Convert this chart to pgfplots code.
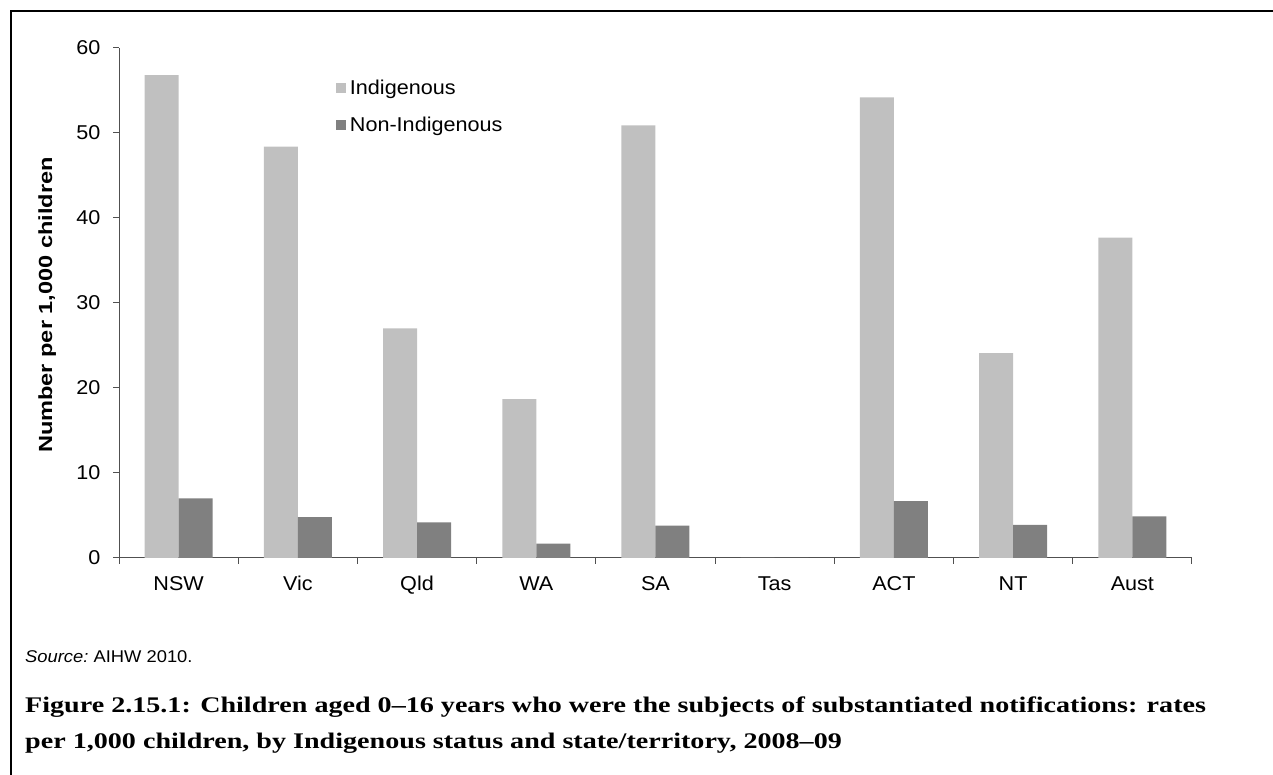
\documentclass[border=0pt]{standalone}
\usepackage{fontspec}
\setmainfont{Liberation Sans}[FakeStretch=1.08]
\newfontfamily\ylabfont{Liberation Sans}[FakeStretch=1.24]
\newfontfamily\titlefont{Liberation Serif}[FakeStretch=1.26]
\usepackage{pgfplots}
\pgfplotsset{compat=1.18}
\definecolor{indig}{HTML}{C0C0C0}
\definecolor{nonindig}{HTML}{808080}
\definecolor{axgray}{HTML}{505050}
\begin{document}
\begin{tikzpicture}
\useasboundingbox (0,0) rectangle (1273pt,775pt);
% frame (only top and left edges are inside the picture)
\draw[line width=2.2pt] (11pt,-10pt) -- (11pt,764pt) -- (1290pt,764pt);
\begin{axis}[
    at={(119pt,217pt)}, anchor=south west,
    scale only axis, width=1073pt, height=510pt,
    xmin=-0.5, xmax=8.5, ymin=0, ymax=60,
    axis x line=bottom, axis y line=left,
    axis line style={-, draw=axgray, line width=1pt},
    ybar=0pt, bar width=34pt,
    xtick={0,...,8},
    xticklabels={NSW,Vic,Qld,WA,SA,Tas,ACT,NT,Aust},
    major x tick style={draw=none},
    minor xtick={-0.5,0.5,...,8.5},
    ytick={0,10,...,60},
    tick align=outside,
    major tick length=6pt, minor tick length=6pt,
    tick style={draw=axgray, line width=1pt},
    ticklabel style={font=\fontsize{20}{24}\selectfont},
    /pgf/number format/assume math mode=true,
    xticklabel style={text height=14.5pt, text depth=0pt, yshift=-8pt},
    yticklabel style={xshift=-9pt},
    ylabel={Number per 1,000 children},
    ylabel style={font=\ylabfont\fontsize{19}{22}\selectfont\bfseries,
        at={(axis description cs:-0.067,0.496)}, anchor=center},
    legend style={at={(axis description cs:0.202,0.94)}, anchor=north west,
        draw=none, fill=none, font=\fontsize{20}{24}\selectfont,
        row sep=19pt, inner sep=0pt,
        nodes={inner sep=1pt}},
    legend cell align=left,
    legend image code/.code={\fill[#1] (0pt,-5pt) rectangle (10pt,5pt); \path (13pt,0pt);},
]
\addplot[fill=indig, draw=none] coordinates
    {(0,56.8) (1,48.4) (2,27.0) (3,18.7) (4,50.9) (5,0) (6,54.2) (7,24.1) (8,37.7)};
\addplot[fill=nonindig, draw=none] coordinates
    {(0,7.0) (1,4.8) (2,4.2) (3,1.7) (4,3.8) (5,0) (6,6.7) (7,3.9) (8,4.9)};
\legend{Indigenous, Non-Indigenous}
\end{axis}
\node[anchor=base west, inner sep=0pt, font=\fontsize{17}{20}\selectfont] at (25pt,112pt)
    {\textit{Source:}\ AIHW 2010.};
\node[anchor=base west, inner sep=0pt, font=\titlefont\fontsize{22.3}{26}\selectfont\bfseries] at (25pt,62pt)
    {Figure 2.15.1: Children aged 0\textendash16 years who were the subjects of substantiated notifications: rates};
\node[anchor=base west, inner sep=0pt, font=\titlefont\fontsize{22.3}{26}\selectfont\bfseries] at (25pt,26pt)
    {per 1,000 children, by Indigenous status and state/territory, 2008\textendash09};
\end{tikzpicture}
\end{document}
